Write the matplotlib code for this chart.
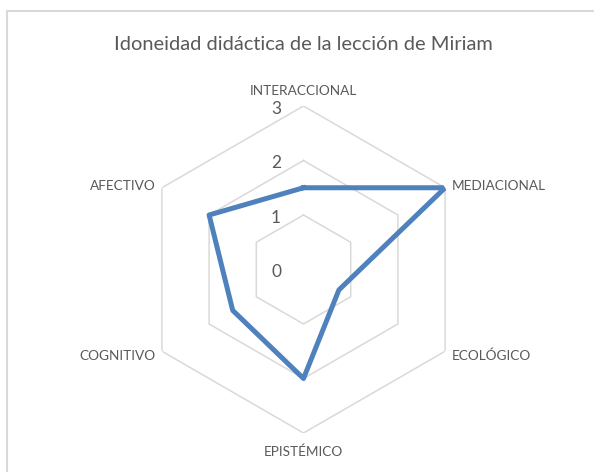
import matplotlib.pyplot as plt
import matplotlib.transforms as mtransforms
from matplotlib.patches import Rectangle
import numpy as np

# Data
categories = ["INTERACCIONAL", "MEDIACIONAL", "ECOLÓGICO", "EPISTÉMICO", "COGNITIVO", "AFECTIVO"]
values = [1.5, 3, 0.75, 2, 1.5, 2]
ring_values = [0, 1, 2, 3]
title = "Idoneidad didáctica de la lección de Miriam"

text_color = "#595959"
grid_color = "#D9D9D9"
line_color = "#4F81BD"

plt.rcParams["font.family"] = ["Lato", "DejaVu Sans"]

fig = plt.figure(figsize=(5.94, 4.72), dpi=100)
ax = fig.add_axes([140 / 594, 39 / 472, 327 / 594, 327 / 472], projection="polar")
ax.set_theta_zero_location("N")
ax.set_theta_direction(-1)
ax.set_ylim(0, 3)
ax.grid(False)
ax.spines["polar"].set_visible(False)
ax.set_xticks([])
ax.set_yticks([])
ax.patch.set_alpha(0)

n = len(categories)
angles = np.linspace(0, 2 * np.pi, n, endpoint=False)
closed = np.append(angles, angles[0])

# hexagonal grid rings
for r in ring_values[1:]:
    ax.plot(closed, [r] * (n + 1), color=grid_color, lw=1.1, zorder=1)

# data series
ax.plot(closed, values + values[:1], color=line_color, lw=3.6,
        solid_joinstyle="round", zorder=3)

# radial axis labels
def offset(dx, dy):
    return ax.transData + mtransforms.ScaledTranslation(dx / 100, dy / 100, fig.dpi_scale_trans)

for r in ring_values:
    ax.text(0, r, str(r), transform=offset(-27.5, -2.5), ha="center", va="center",
            fontsize=12.5, color=text_color)

# category labels
label_style = [
    (0, 15, "center", "center"),
    (6.5, 1.5, "left", "center"),
    (6.5, -4.5, "left", "center"),
    (0, -19, "center", "center"),
    (-6.5, -4.5, "right", "center"),
    (-6.5, 1.5, "right", "center"),
]
for ang, cat, (dx, dy, ha, va) in zip(angles, categories, label_style):
    ax.text(ang, 3, cat, transform=offset(dx, dy), ha=ha, va=va,
            fontsize=9.8, color=text_color)

fig.text(303.5 / 594, 1 - 45 / 472, title, ha="center", va="center",
         fontsize=14.4, color=text_color)

# chart area border (only top and left visible in the crop)
fig.add_artist(Rectangle((7 / 594, -0.05), 1.2, 1.05 - 11 / 472,
                         transform=fig.transFigure, fill=False,
                         edgecolor=grid_color, lw=1.5))

fig.savefig("out.png", dpi=100)
